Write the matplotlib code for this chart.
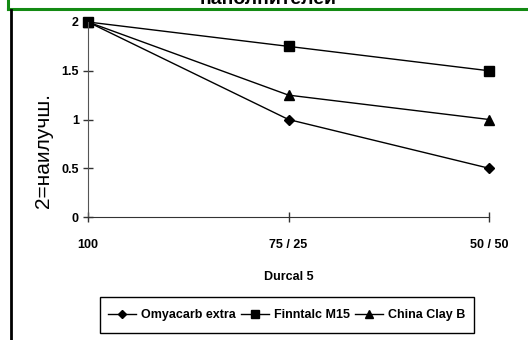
import matplotlib.pyplot as plt
from matplotlib.lines import Line2D
from matplotlib.patches import Rectangle

# data
categories = ['100', '75 / 25', '50 / 50']
omyacarb = [2, 1, 0.5]
finntalc = [2, 1.75, 1.5]
china_clay = [2, 1.25, 1]
series_names = ['Omyacarb extra', 'Finntalc M15', 'China Clay B']
y_ticks = [0, 0.5, 1, 1.5, 2]
y_tick_labels = ['0', '0.5', '1', '1.5', '2']

fam = ['Liberation Sans', 'DejaVu Sans']
small = 9

W, H = 528, 340
fig = plt.figure(figsize=(W / 100, H / 100), dpi=100)
fig.patch.set_facecolor('white')

# axes placed in pixel terms
x0, x1 = 88, 489
y_top, y_bot = 22, 217
ax = fig.add_axes([x0 / W, 1 - y_bot / H, (x1 - x0) / W, (y_bot - y_top) / H])
ax.set_facecolor('none')

xs = range(len(categories))
ax.plot(xs, omyacarb, color='black', lw=1, marker='D', ms=5, clip_on=False)
ax.plot(xs, finntalc, color='black', lw=1, marker='s', ms=7, clip_on=False)
ax.plot(xs, china_clay, color='black', lw=1, marker='^', ms=7, clip_on=False)

ax.set_xlim(0, 2)
ax.set_ylim(0, 2)
for s in ['top', 'right']:
    ax.spines[s].set_visible(False)
ax.spines['left'].set_color('#555555')
ax.spines['bottom'].set_color('#333333')

ax.set_xticks(list(xs))
ax.set_xticklabels(categories, fontfamily=fam, fontweight='bold', fontsize=small)
ax.set_yticks(y_ticks)
ax.set_yticklabels(y_tick_labels, fontfamily=fam, fontweight='bold', fontsize=small)
ax.tick_params(axis='x', direction='inout', length=7, width=1, pad=12.5, colors='#333333', labelcolor='black')
ax.tick_params(axis='y', direction='inout', length=7, width=1, pad=3, colors='#333333', labelcolor='black')

ax.set_xlabel('Durcal 5', fontfamily=fam, fontweight='bold', fontsize=small, labelpad=14)

fig.text(44 / W, 1 - 151 / H, '2=наилучш.', rotation=90, ha='center', va='center',
         fontfamily=fam, fontsize=15)

# cut-off title above the chart (only its lower part shows, as in the original)
fig.text(268 / W, 1 - 4.5 / H, 'наполнителей', ha='center', va='baseline',
         fontfamily=fam, fontweight='bold', fontsize=14)

# green frame edge and black left border
fig.add_artist(Line2D([8 / W, 1], [1 - 9 / H, 1 - 9 / H], color='#138a13', lw=2.2,
                      transform=fig.transFigure))
fig.add_artist(Line2D([8 / W, 8 / W], [1 - 9 / H, 1], color='#138a13', lw=2.2,
                      transform=fig.transFigure))
fig.add_artist(Line2D([11 / W, 11 / W], [0, 1 - 10 / H], color='black', lw=2,
                      transform=fig.transFigure))

# legend frame drawn separately so its size matches
fig.add_artist(Rectangle((100 / W, 1 - 333 / H), 374 / W, 36 / H, fill=False,
                         edgecolor='black', lw=1, transform=fig.transFigure))
leg = fig.legend(ax.lines, series_names, loc='center', ncol=3,
                 bbox_to_anchor=(287 / W, 1 - 315 / H),
                 prop={'family': fam, 'weight': 'bold', 'size': small},
                 frameon=False, handlelength=2.2, handletextpad=0.45,
                 columnspacing=0.4, markerscale=0.8)

fig.savefig('out.png', dpi=100)
